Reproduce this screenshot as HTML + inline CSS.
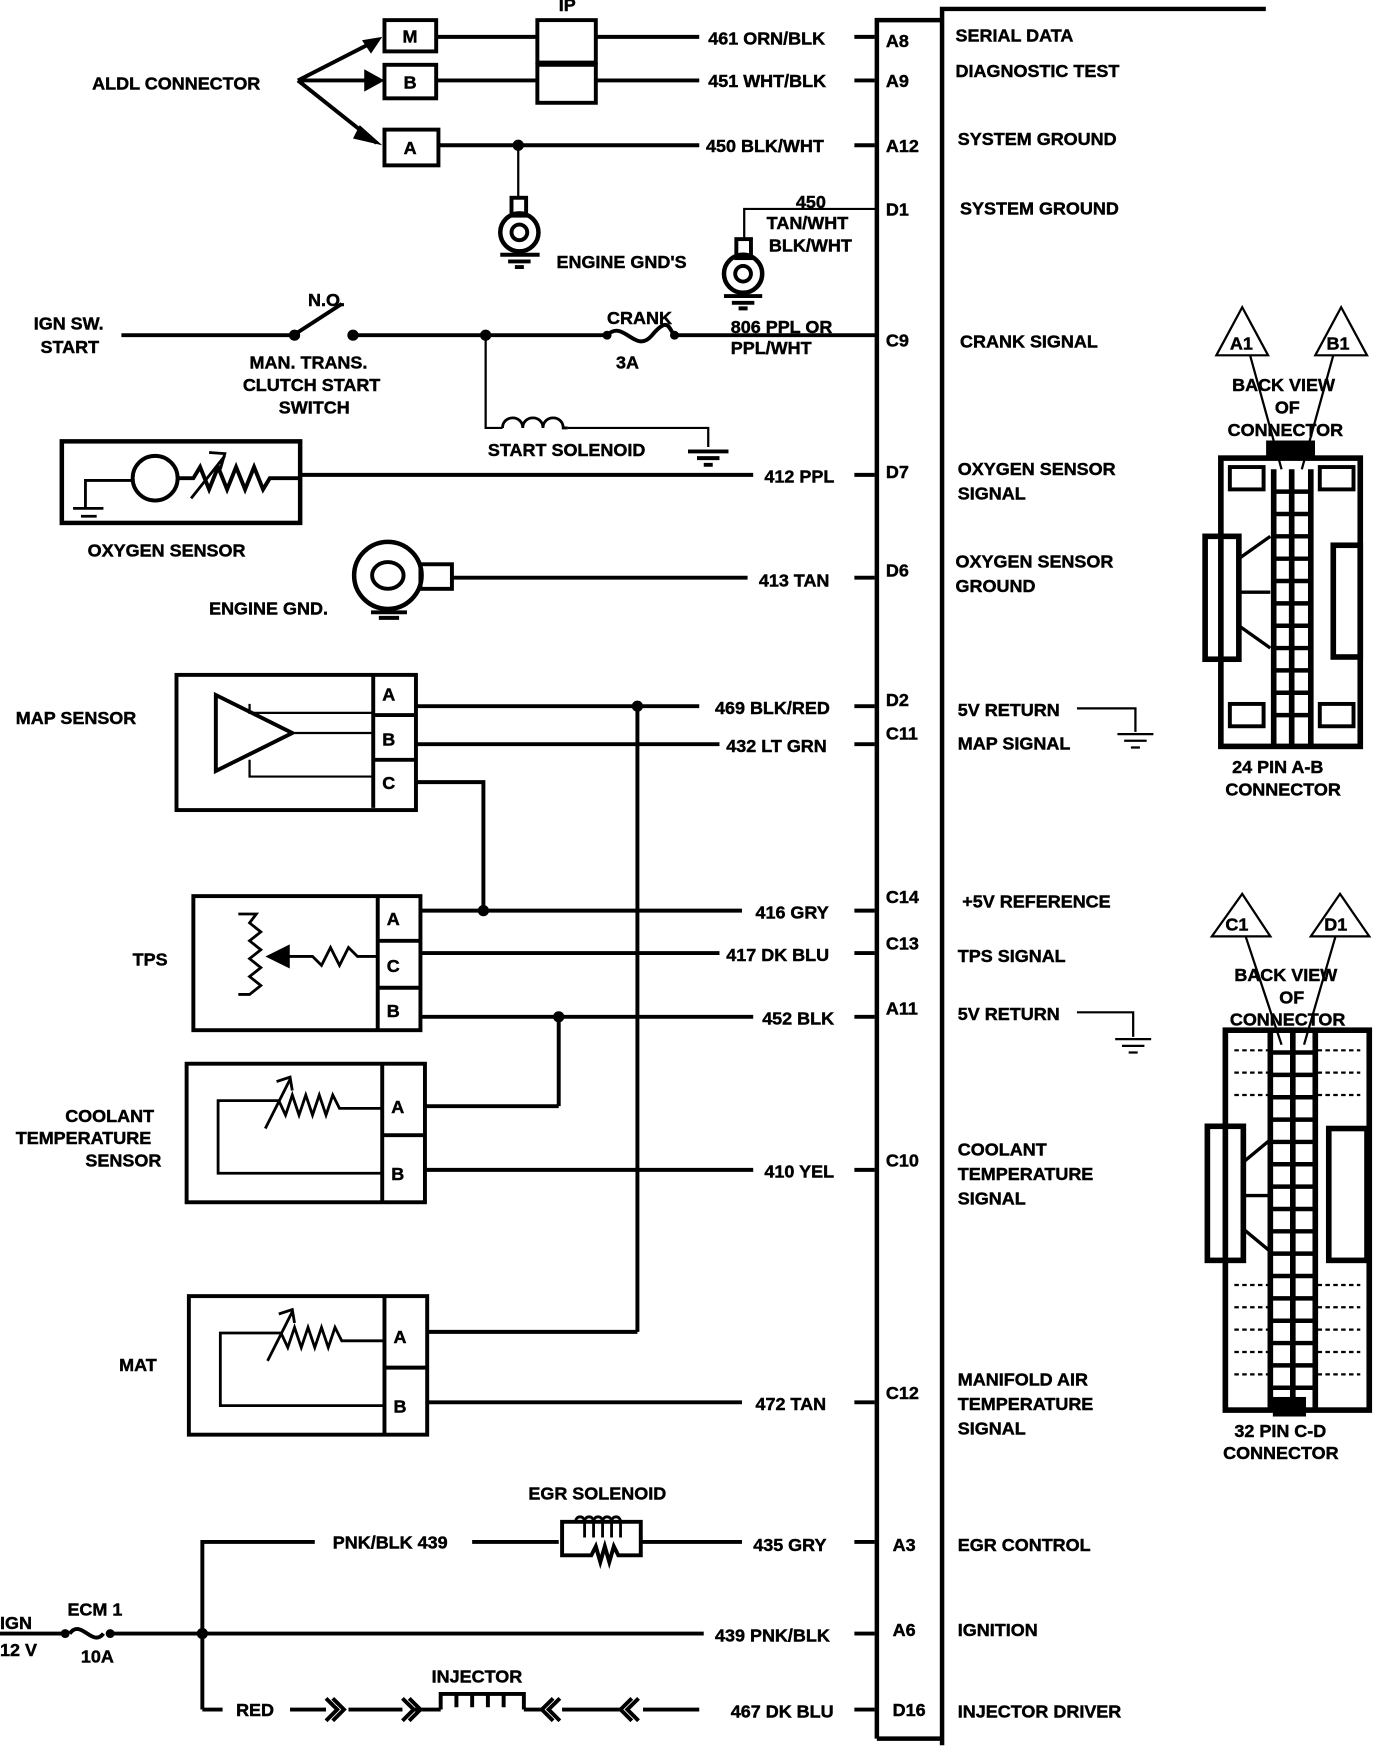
<!DOCTYPE html>
<html><head><meta charset="utf-8"><style>
html,body{margin:0;padding:0;background:#fff;}
svg{display:block;}
text{font-family:"Liberation Sans",sans-serif;font-weight:bold;font-size:16px;fill:#000;stroke:#000;stroke-width:0.4px;}
</style></head><body>
<svg width="1376" height="1752" viewBox="0 0 1224 1568" preserveAspectRatio="none" xmlns="http://www.w3.org/2000/svg">
<g stroke="#000" stroke-width="3.5" fill="none">
<!-- ECM -->
<path d="M780 1556 V18 H838" stroke-width="4"/>
<path d="M838 1562 V8 H1126" stroke-width="4"/>
<path d="M780 1556 H838" stroke-width="4"/>
<!-- ALDL -->
<path d="M265 72 L335 36 M265 72 L335 72 M265 72 L335 128"/>
<rect x="342" y="18" width="46" height="28"/>
<rect x="342" y="58" width="46" height="30"/>
<rect x="342" y="116" width="48" height="32"/>
<rect x="478" y="18" width="52" height="38"/>
<rect x="478" y="58" width="52" height="34"/>
<path d="M388 33 H478 M530 33 H622 M760 33 H778"/>
<path d="M388 72 H478 M530 72 H622 M760 72 H778"/>
<path d="M390 130 H622 M760 130 H778"/>
<path d="M461 130 V178" stroke-width="2"/>
<rect x="455" y="177" width="13" height="16"/>
<circle cx="462" cy="208" r="17" stroke-width="4"/><circle cx="462" cy="208" r="7"/>
<path d="M445 228 H480 M452 234 H472 M458 239 H466"/>
<!-- D1 -->
<path d="M780 187 H662 V215" stroke-width="2"/>
<rect x="655" y="214" width="13" height="17"/>
<circle cx="661" cy="245" r="17" stroke-width="4"/><circle cx="661" cy="245" r="7"/>
<path d="M644 265 H678 M651 271 H671 M657 276 H665"/>
<!-- crank -->
<path d="M108 300 H262 M314 300 H540 M600 300 H780"/>
<path d="M264 298 L304 272"/>
<path d="M540 300 C555 285 565 318 580 300 S595 295 600 300"/>
<path d="M432 300 V383 H447 M505 383 H630 V400" stroke-width="2"/>
<path d="M447 383 c0 -12 18 -12 18 0 c0 -12 18 -12 18 0 c0 -12 18 -12 18 0 h4" stroke-width="2.5"/>
<path d="M612 404 H648 M620 410 H640 M626 416 H634"/>
<!-- O2 sensor -->
<rect x="55" y="395" width="212" height="73" stroke-width="4"/>
<circle cx="138" cy="428" r="20"/>
<path d="M76 455 V430 H118 M65 455 H92 M72 462 H86 M78 468 H82" stroke-width="2.5"/>
<path d="M158 428 H172 L178 418 L186 438 L194 418 L202 438 L210 418 L218 438 L226 418 L234 438 L240 428 H267"/>
<path d="M170 446 L200 408 M186 405 L200 406 L196 420" stroke-width="2.5"/>
<path d="M267 425 H670 M760 425 H778"/>
<!-- D6 -->
<circle cx="345" cy="515" r="30" stroke-width="4"/><ellipse cx="345" cy="515" rx="14" ry="12"/>
<rect x="374" y="505" width="28" height="22"/>
<path d="M402 517 H665 M760 517 H778"/>
<path d="M330 548 H362 M337 553 H355"/>
<!-- MAP -->
<rect x="157" y="604" width="213" height="121"/>
<path d="M332 604 V723 M332 640 H370 M332 680 H370"/>
<path d="M192 622 V690 L260 656 Z"/>
<path d="M222 630 V638 H332 M262 656 H332 M222 680 V695 H332" stroke-width="2"/>
<path d="M370 632 H622 M760 632 H778"/>
<path d="M370 666 H640 M760 666 H778"/>
<path d="M370 700 H430 V815"/>
<path d="M567 632 V1192"/>
<!-- TPS -->
<rect x="172" y="802" width="202" height="120"/>
<path d="M336 802 V922 M336 842 H374 M336 884 H374"/>
<path d="M212 818 H228 L222 826 L232 834 L222 842 L232 850 L222 858 L232 866 L222 874 L232 882 L222 890 H212" stroke-width="2.5"/>
<path d="M336 822 V856 H318 L310 848 L302 864 L294 848 L286 864 L278 856 H245" stroke-width="2.5"/>
<path d="M240 856 L256 848 L256 864 Z" fill="#000"/>
<path d="M374 815 H660 M760 815 H778"/>
<path d="M374 853 H640 M760 853 H778"/>
<path d="M374 910 H670 M760 910 H778"/>
<path d="M497 910 V990"/>
<!-- CTS -->
<rect x="166" y="952" width="212" height="124"/>
<path d="M340 952 V1076 M340 1016 H378"/>
<path d="M340 992 H302 L296 980 L290 998 L284 980 L278 998 L272 980 L266 998 L260 980 L254 998 L248 985 L194 985 V1050 H340" stroke-width="2.5"/>
<path d="M236 1010 L258 966 M246 968 L258 964 L260 976" stroke-width="2.5"/>
<path d="M378 990 H497 M378 1047 H670 M760 1047 H778"/>
<!-- MAT -->
<rect x="168" y="1160" width="212" height="124"/>
<path d="M342 1160 V1284 M342 1224 H380"/>
<path d="M342 1200 H304 L298 1188 L292 1206 L286 1188 L280 1206 L274 1188 L268 1206 L262 1188 L256 1206 L250 1193 L196 1193 V1258 H342" stroke-width="2.5"/>
<path d="M238 1218 L260 1174 M248 1176 L260 1172 L262 1184" stroke-width="2.5"/>
<path d="M380 1192 H567 M380 1255 H660 M760 1255 H778"/>
<!-- bottom -->
<path d="M0 1462 H55 M100 1462 H626 M760 1462 H778"/>
<path d="M62 1462 C72 1448 82 1475 92 1462"/>
<path d="M180 1530 V1380 H280 M420 1380 H497 M570 1380 H660 M760 1380 H778"/>
<path d="M500 1380 V1362 H570 V1392 H550 L546 1384 L542 1398 L538 1384 L534 1398 L530 1384 L526 1392 H500 Z"/>
<path d="M512 1362 c0 -6 8 -6 8 0 v14 M520 1362 c0 -6 8 -6 8 0 v14 M528 1362 c0 -6 8 -6 8 0 v14 M536 1362 c0 -6 8 -6 8 0 v14 M544 1362 c0 -6 8 -6 8 0 v14" stroke-width="2.5"/>
<path d="M180 1530 H198 M258 1530 H290 M310 1530 H358 M368 1530 H392 M466 1530 H482 M500 1530 H552 M572 1530 H622 M760 1530 H778"/>
<path d="M290 1520 L300 1530 L290 1540 M296 1520 L306 1530 L296 1540 M358 1520 L368 1530 L358 1540 M364 1520 L374 1530 L364 1540"/>
<path d="M492 1520 L482 1530 L492 1540 M498 1520 L488 1530 L498 1540 M562 1520 L552 1530 L562 1540 M568 1520 L558 1530 L568 1540"/>
<path d="M392 1530 V1516 H466 V1530 M406 1516 v12 M420 1516 v12 M434 1516 v12 M448 1516 v12"/>
<!-- grounds right -->
<path d="M958 634 H1010 V655 M994 657 H1026 M1000 663 H1020 M1006 669 H1014" stroke-width="2"/>
<path d="M958 906 H1008 V928 M992 930 H1024 M998 936 H1018 M1004 942 H1012" stroke-width="2"/>
<!-- 24 pin connector -->
<path d="M1082 318 L1105 275 L1128 318 Z M1170 318 L1193 275 L1216 318 Z" stroke-width="2"/>
<path d="M1112 318 L1140 420 M1186 318 L1158 420" stroke-width="2"/>
<rect x="1086" y="410" width="124" height="258" stroke-width="5"/>
<rect x="1072" y="480" width="30" height="110" stroke-width="5"/>
<rect x="1186" y="488" width="24" height="100" stroke-width="5"/>
<rect x="1094" y="418" width="30" height="20"/><rect x="1174" y="418" width="30" height="20"/>
<rect x="1094" y="630" width="30" height="20"/><rect x="1174" y="630" width="30" height="20"/>
<rect x="1128" y="396" width="40" height="12" fill="#000"/>
<path d="M1133 420 V668 M1166 420 V668 M1149 420 V668" stroke-width="5"/>
<path d="M1133 440 H1166 M1133 460 H1166 M1133 480 H1166 M1133 500 H1166 M1133 520 H1166 M1133 540 H1166 M1133 560 H1166 M1133 580 H1166 M1133 600 H1166 M1133 620 H1166 M1133 640 H1166" stroke-width="4"/>
<path d="M1102 500 L1130 480 M1102 560 L1130 580 M1102 530 H1130" stroke-width="3"/>
<!-- 32 pin -->
<path d="M1078 838 L1105 800 L1130 838 Z M1166 838 L1192 800 L1218 838 Z" stroke-width="2"/>
<path d="M1108 838 L1140 935 M1188 838 L1160 935" stroke-width="2"/>
<rect x="1090" y="922" width="128" height="340" stroke-width="5"/>
<rect x="1074" y="1008" width="32" height="120" stroke-width="5"/>
<rect x="1182" y="1010" width="34" height="118" stroke-width="5"/>
<path d="M1130 922 V1262 M1170 922 V1262 M1150 922 V1262" stroke-width="5"/>
<path d="M1130 942 H1170 M1130 962 H1170 M1130 982 H1170 M1130 1002 H1170 M1130 1022 H1170 M1130 1042 H1170 M1130 1062 H1170 M1130 1082 H1170 M1130 1102 H1170 M1130 1122 H1170 M1130 1142 H1170 M1130 1162 H1170 M1130 1182 H1170 M1130 1202 H1170 M1130 1222 H1170 M1130 1242 H1170" stroke-width="4"/>
<path d="M1106 1040 L1130 1020 M1106 1100 L1130 1120 M1106 1070 H1130" stroke-width="3"/>
<path d="M1098 940 H1128 M1098 960 H1128 M1098 980 H1128 M1098 1150 H1128 M1098 1170 H1128 M1098 1190 H1128 M1098 1210 H1128 M1098 1230 H1128 M1172 940 H1210 M1172 960 H1210 M1172 980 H1210 M1172 1150 H1210 M1172 1170 H1210 M1172 1190 H1210 M1172 1210 H1210 M1172 1230 H1210" stroke-width="2" stroke-dasharray="4 3"/>
<rect x="1134" y="1252" width="26" height="14" fill="#000"/>
</g>
<g fill="#000">
<circle cx="461" cy="130" r="5"/><circle cx="262" cy="300" r="5"/><circle cx="314" cy="300" r="5"/>
<circle cx="432" cy="300" r="5"/><circle cx="540" cy="300" r="4"/><circle cx="600" cy="300" r="4"/>
<circle cx="567" cy="632" r="5"/><circle cx="430" cy="815" r="5"/><circle cx="497" cy="910" r="5"/>
<circle cx="180" cy="1462" r="5"/><circle cx="58" cy="1462" r="4"/><circle cx="98" cy="1462" r="4"/>
<path d="M340 33 L322 36 L330 48 Z M342 72 L324 62 L324 82 Z M340 130 L320 112 L314 124 Z"/>
</g>
<g>
<text x="82" y="80">ALDL CONNECTOR</text>
<text x="358" y="38">M</text><text x="359" y="79">B</text><text x="359" y="138">A</text>
<text x="497" y="10">IP</text>
<text x="630" y="40">461 ORN/BLK</text><text x="788" y="42">A8</text>
<text x="630" y="78">451 WHT/BLK</text><text x="788" y="78">A9</text>
<text x="628" y="136">450 BLK/WHT</text><text x="788" y="136">A12</text>
<text x="708" y="186">450</text><text x="682" y="205">TAN/WHT</text><text x="684" y="225">BLK/WHT</text>
<text x="788" y="193">D1</text>
<text x="495" y="240">ENGINE GND'S</text>
<text x="30" y="295">IGN SW.</text><text x="36" y="316">START</text>
<text x="274" y="274">N.O.</text>
<text x="222" y="330">MAN. TRANS.</text><text x="216" y="350">CLUTCH START</text><text x="248" y="370">SWITCH</text>
<text x="540" y="290">CRANK</text><text x="548" y="330">3A</text>
<text x="650" y="298">806 PPL OR</text><text x="650" y="317">PPL/WHT</text><text x="788" y="310">C9</text>
<text x="434" y="408">START SOLENOID</text>
<text x="680" y="432">412 PPL</text><text x="788" y="428">D7</text>
<text x="78" y="498">OXYGEN SENSOR</text>
<text x="675" y="525">413 TAN</text><text x="788" y="516">D6</text>
<text x="186" y="550">ENGINE GND.</text>
<text x="14" y="648">MAP SENSOR</text>
<text x="340" y="627">A</text><text x="340" y="667">B</text><text x="340" y="706">C</text>
<text x="636" y="639">469 BLK/RED</text><text x="788" y="632">D2</text>
<text x="646" y="673">432 LT GRN</text><text x="788" y="662">C11</text>
<text x="118" y="864">TPS</text>
<text x="344" y="828">A</text><text x="344" y="870">C</text><text x="344" y="910">B</text>
<text x="672" y="822">416 GRY</text><text x="788" y="808">C14</text>
<text x="646" y="860">417 DK BLU</text><text x="788" y="850">C13</text>
<text x="678" y="917">452 BLK</text><text x="788" y="908">A11</text>
<text x="58" y="1004">COOLANT</text><text x="14" y="1024">TEMPERATURE</text><text x="76" y="1044">SENSOR</text>
<text x="348" y="996">A</text><text x="348" y="1056">B</text>
<text x="680" y="1054">410 YEL</text><text x="788" y="1044">C10</text>
<text x="106" y="1227">MAT</text>
<text x="350" y="1202">A</text><text x="350" y="1264">B</text>
<text x="672" y="1262">472 TAN</text><text x="788" y="1252">C12</text>
<text x="470" y="1342">EGR SOLENOID</text>
<text x="296" y="1386">PNK/BLK 439</text>
<text x="670" y="1388">435 GRY</text><text x="794" y="1388">A3</text>
<text x="0" y="1458">IGN</text><text x="0" y="1482">12 V</text>
<text x="60" y="1446">ECM 1</text><text x="72" y="1488">10A</text>
<text x="636" y="1469">439 PNK/BLK</text><text x="794" y="1464">A6</text>
<text x="384" y="1506">INJECTOR</text>
<text x="210" y="1536">RED</text>
<text x="650" y="1537">467 DK BLU</text><text x="794" y="1536">D16</text>
<text x="850" y="37">SERIAL DATA</text>
<text x="850" y="69">DIAGNOSTIC TEST</text>
<text x="852" y="130">SYSTEM GROUND</text>
<text x="854" y="192">SYSTEM GROUND</text>
<text x="854" y="311">CRANK SIGNAL</text>
<text x="852" y="425">OXYGEN SENSOR</text><text x="852" y="447">SIGNAL</text>
<text x="850" y="508">OXYGEN SENSOR</text><text x="850" y="530">GROUND</text>
<text x="852" y="641">5V RETURN</text><text x="852" y="671">MAP SIGNAL</text>
<text x="856" y="812">+5V REFERENCE</text>
<text x="852" y="861">TPS SIGNAL</text>
<text x="852" y="913">5V RETURN</text>
<text x="852" y="1034">COOLANT</text><text x="852" y="1056">TEMPERATURE</text><text x="852" y="1078">SIGNAL</text>
<text x="852" y="1240">MANIFOLD AIR</text><text x="852" y="1262">TEMPERATURE</text><text x="852" y="1284">SIGNAL</text>
<text x="852" y="1388">EGR CONTROL</text>
<text x="852" y="1464">IGNITION</text>
<text x="852" y="1537">INJECTOR DRIVER</text>
<text x="1094" y="313" font-size="15">A1</text><text x="1180" y="313" font-size="15">B1</text>
<text x="1096" y="350">BACK VIEW</text><text x="1134" y="370">OF</text><text x="1092" y="390">CONNECTOR</text>
<text x="1096" y="692">24 PIN  A-B</text><text x="1090" y="712">CONNECTOR</text>
<text x="1090" y="833" font-size="15">C1</text><text x="1178" y="833" font-size="15">D1</text>
<text x="1098" y="878">BACK VIEW</text><text x="1138" y="898">OF</text><text x="1094" y="918">CONNECTOR</text>
<text x="1098" y="1286">32 PIN C-D</text><text x="1088" y="1306">CONNECTOR</text>
</g>
</svg>
</body></html>
